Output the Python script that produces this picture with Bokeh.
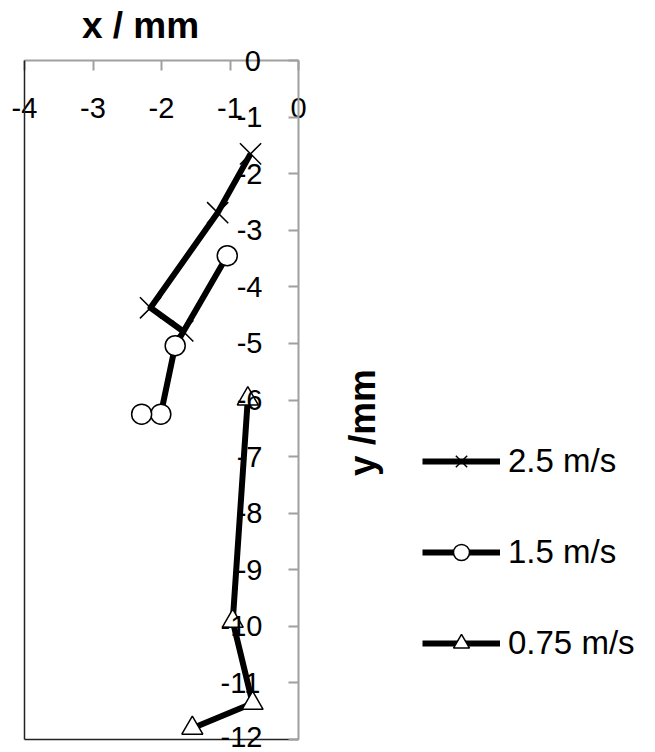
import math
from bokeh.plotting import figure
from bokeh.models import Range1d, LinearAxis, FixedTicker, Legend, LegendItem, Label
from bokeh.embed import file_html
from bokeh.resources import INLINE

# ---- data ----
x_25 = [-0.70, -1.18, -2.16, -1.69]
y_25 = [-1.65, -2.69, -4.37, -4.78]
x_15 = [-1.04, -1.80, -2.01, -2.29]
y_15 = [-3.45, -5.04, -6.25, -6.25]
x_075 = [-0.74, -0.96, -0.67, -1.55]
y_075 = [-5.98, -9.91, -11.36, -11.80]
labels = ["2.5 m/s", "1.5 m/s", "0.75 m/s"]
x_ticks = [-4, -3, -2, -1, 0]
y_ticks = list(range(-12, 1))
x_min, x_max = -4, 0
y_min, y_max = -12, 0

FONT = "Liberation Sans"
FS = "\u2007"   # figure space (digit width)
PS = "\u2008"   # punctuation space

def ylab(v):
    s = str(v)
    if v == 0:
        return PS + FS + s
    if v > -10:
        return FS + s
    return s

# canvas layout (pixels): plot box spans x 24..298, y 60..739 of a 655x752 canvas
W, H = 655, 752
L, R, T, B = 24, 298, 60, 739
sx = (R - L) / (x_max - x_min)
sy = (B - T) / (y_max - y_min)
xr = Range1d(x_min - L / sx, x_max + (W - R) / sx)
yr = Range1d(y_min - (H - B) / sy, y_max + T / sy)

p = figure(width=W, height=H, x_range=xr, y_range=yr,
           x_axis_location=None, y_axis_location=None,
           output_backend="svg", toolbar_location=None,
           min_border=0, min_border_left=0, min_border_right=0, min_border_top=0, min_border_bottom=0)
p.grid.visible = False
p.outline_line_color = None
p.background_fill_color = "white"
p.border_fill_color = "white"

AX = "#a0a0a0"
xa = LinearAxis(fixed_location=y_max, bounds=(x_min, x_max), ticker=FixedTicker(ticks=x_ticks),
                major_label_overrides={t: str(t) for t in x_ticks})
ya = LinearAxis(fixed_location=x_max, bounds=(y_min, y_max), ticker=FixedTicker(ticks=y_ticks),
                major_label_overrides={t: ylab(t) for t in y_ticks})
for ax in (xa, ya):
    ax.axis_line_color = AX
    ax.axis_line_width = 2
    ax.major_tick_line_color = AX
    ax.major_tick_line_width = 2
    ax.major_tick_in = 10
    ax.major_tick_out = 0
    ax.minor_tick_line_color = None
    ax.major_label_text_font = FONT
    ax.major_label_text_font_size = "29px"
    ax.major_label_text_color = "black"
xa.major_label_standoff = -57
ya.major_label_standoff = -78

left_line = LinearAxis(fixed_location=x_min, bounds=(y_min, y_max), ticker=FixedTicker(ticks=[]),
                       axis_line_color="#222222", axis_line_width=1.5,
                       major_tick_line_color=None, minor_tick_line_color=None)
bottom_line = LinearAxis(fixed_location=y_min, bounds=(x_min, x_max), ticker=FixedTicker(ticks=[]),
                         axis_line_color="#222222", axis_line_width=1.5,
                         major_tick_line_color=None, minor_tick_line_color=None)
p.add_layout(left_line, "left")
p.add_layout(bottom_line, "below")
p.add_layout(xa, "above")
p.add_layout(ya, "right")

l1 = p.line(x_25, y_25, line_width=6, color="black", line_join="round")
s1 = p.scatter(x_25, y_25, marker="x", size=30, line_color="black", line_width=1.5)
l2 = p.line(x_15, y_15, line_width=6, color="black", line_join="round")
s2 = p.scatter(x_15, y_15, marker="circle", size=20, fill_color="white", line_color="black", line_width=1.5)
l3 = p.line(x_075, y_075, line_width=6, color="black", line_join="round")
s3 = p.scatter(x_075, y_075, marker="triangle", size=21, fill_color="white", line_color="black", line_width=1.5)

legend = Legend(items=[LegendItem(label=labels[0], renderers=[l1, s1]),
                       LegendItem(label=labels[1], renderers=[l2, s2]),
                       LegendItem(label=labels[2], renderers=[l3, s3])],
                location=(422, 89))
legend.border_line_color = None
legend.background_fill_alpha = 0
legend.padding = 0
legend.margin = 0
legend.glyph_width = 78
legend.glyph_height = 40
legend.label_height = 40
legend.spacing = 51
legend.label_standoff = 8
legend.label_text_font = FONT
legend.label_text_font_size = "33px"
legend.label_text_color = "black"
p.add_layout(legend)

p.add_layout(Label(x=x_min + (140 - L) / sx, y=y_max + (T - 25) / sy, text="x / mm",
                   text_font=FONT, text_font_size="37px", text_font_style="bold",
                   text_color="black", text_align="center", text_baseline="middle"))
p.add_layout(Label(x=x_max + (362 - R) / sx, y=y_max - (422 - T) / sy, text="y /mm",
                   text_font=FONT, text_font_size="37px", text_font_style="bold",
                   text_color="black", text_align="center", text_baseline="middle",
                   angle=math.pi / 2))

open("out.html", "w").write(file_html(p, INLINE))
